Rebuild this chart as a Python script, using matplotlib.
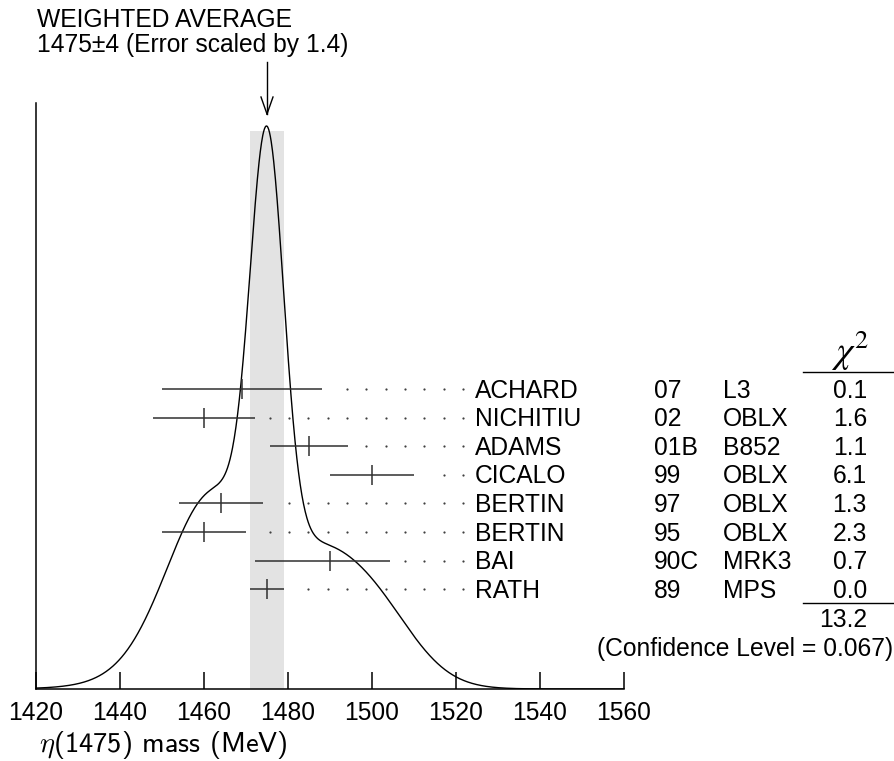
import numpy as np
import matplotlib.pyplot as plt

plt.rcParams['font.family'] = ['Liberation Sans', 'DejaVu Sans']

# eta(1475) mass measurements (MeV)
names = ['ACHARD', 'NICHITIU', 'ADAMS', 'CICALO', 'BERTIN', 'BERTIN', 'BAI', 'RATH']
years = ['07', '02', '01B', '99', '97', '95', '90C', '89']
expts = ['L3', 'OBLX', 'B852', 'OBLX', 'OBLX', 'OBLX', 'MRK3', 'MPS']
mass = [1469, 1460, 1485, 1500, 1464, 1460, 1490, 1475]
err_lo = [19.1, 12.2, 9.4, 10, 10, 10, 17.9, 4]
err_hi = [19.1, 12.2, 9.4, 10, 10, 10, 14.3, 4]
chi2 = ['0.1', '1.6', '1.1', '6.1', '1.3', '2.3', '0.7', '0.0']
chi2_total = '13.2'
conf_level = '0.067'
avg = 1475
avg_err = 4
err_scale = 1.4
xticks = [1420, 1440, 1460, 1480, 1500, 1520, 1540, 1560]

W, H = 894, 761
fs = 17.7
base = 689      # pixel row of the x axis
top = 103       # top of the left axis line
row0, drow = 389, 28.6

fig = plt.figure(figsize=(W / 100, H / 100), dpi=100)
cv = fig.add_axes([0, 0, 1, 1])
cv.set_xlim(0, W)
cv.set_ylim(H, 0)
cv.axis('off')

ax = fig.add_axes([36 / W, 1 - base / H, 588 / W, (base - top) / H])
ax.patch.set_visible(False)
ax.set_xlim(1420, 1560)
ax.set_ylim(0, base - top)
mev_px = 588 / 140.0

# ideogram: one gaussian per measurement, area ~ 1/sigma
xs = np.linspace(1420, 1560, 1401)
ideo = np.zeros_like(xs)
for m, lo, hi in zip(mass, err_lo, err_hi):
    s = np.where(xs < m, lo, hi)
    ideo += np.exp(-0.5 * ((xs - m) / s) ** 2) / (0.5 * (lo + hi)) ** 2
ideo *= (base - 126) / ideo.max()

ax.fill_between([avg - avg_err, avg + avg_err], 0, base - 131, color='#e3e3e3', lw=0, zorder=0)
ax.plot(xs, ideo, color='black', lw=1.0, zorder=3)

# arrow pointing at the average
ax.plot([avg, avg], [base - 62, base - 114], color='black', lw=1.0, clip_on=False)
for sgn in (-1, 1):
    ax.plot([avg + sgn * 6 / mev_px, avg], [base - 97, base - 114], color='black', lw=1.0, clip_on=False)

rows = [base - (row0 + drow * i) for i in range(len(names))]
ax.errorbar(mass, rows, xerr=[err_lo, err_hi], fmt='|', color='#303030', ms=14.5, mew=1.1,
            elinewidth=1.1, capsize=0, clip_on=False, zorder=4)

# dotted leaders to the labels
grid = 1521.67 - 4.607 * np.arange(30)
for m, hi, y in zip(mass, err_hi, rows):
    d = grid[grid > m + hi + 2.86]
    ax.plot(d, [y] * len(d), 'o', ms=1.6, color='#404040', mew=0, clip_on=False)

for sp in ['top', 'right']:
    ax.spines[sp].set_visible(False)
for sp in ['left', 'bottom']:
    ax.spines[sp].set_linewidth(1.1)
ax.set_yticks([])
ax.set_xticks(xticks)
ax.set_xticklabels([str(t) for t in xticks])
ax.tick_params(axis='x', direction='in', length=12.2, width=1.1, pad=8.5, labelsize=fs)

# text columns
for i in range(len(names)):
    yb = row0 + drow * i + 8.6
    cv.text(475, yb, names[i], fontsize=fs, va='baseline')
    cv.text(654, yb, years[i], fontsize=fs, va='baseline')
    cv.text(723, yb, expts[i], fontsize=fs, va='baseline')
    cv.text(867, yb, chi2[i], fontsize=fs, va='baseline', ha='right')

cv.text(850, 363, r'$\chi^2$', fontsize=27, ha='center', va='baseline', math_fontfamily='stix')
cv.plot([803, 894], [372, 372], color='black', lw=1.0)
cv.plot([803, 894], [603, 603], color='black', lw=1.0)
cv.text(867, 618 + 8.6, chi2_total, fontsize=fs, va='baseline', ha='right')
cv.text(893, 647 + 8.6, '(Confidence Level = %s)' % conf_level, fontsize=fs, va='baseline', ha='right')

cv.text(37, 27, 'WEIGHTED AVERAGE', fontsize=fs, va='baseline')
cv.text(37, 52, '%d\u00b1%d (Error scaled by %.1f)' % (avg, avg_err, err_scale), fontsize=fs, va='baseline')

cv.text(39, 752, r'$\eta$(1475) mass (MeV)', fontsize=20.5, va='baseline', family='cmss10',
        math_fontfamily='cm')

fig.savefig('out.png', dpi=100)
